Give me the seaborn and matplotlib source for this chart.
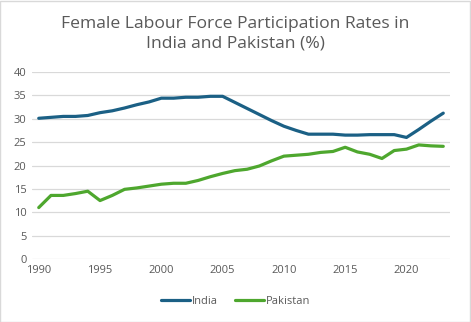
import numpy as np
import pandas as pd
import matplotlib
matplotlib.use("Agg")
import matplotlib.pyplot as plt
import seaborn as sns
from matplotlib.lines import Line2D

years = list(range(1990, 2024))
india = [30.1, 30.3, 30.5, 30.5, 30.7, 31.3, 31.7, 32.3, 33.0, 33.6,
         34.4, 34.4, 34.6, 34.6, 34.8, 34.8, 33.5, 32.2, 30.9, 29.6,
         28.4, 27.5, 26.7, 26.7, 26.7, 26.5, 26.5, 26.6, 26.6, 26.6,
         26.0, 27.7, 29.5, 31.2]
pakistan = [11.0, 13.6, 13.6, 14.0, 14.5, 12.5, 13.6, 14.9, 15.2, 15.6,
            16.0, 16.2, 16.2, 16.8, 17.6, 18.3, 18.9, 19.2, 19.9, 21.0,
            22.0, 22.2, 22.4, 22.8, 23.0, 23.9, 22.9, 22.4, 21.5, 23.2,
            23.5, 24.4, 24.2, 24.1]
series_names = ["India", "Pakistan"]
yticks = [0, 5, 10, 15, 20, 25, 30, 35, 40]
xticks = [1990, 1995, 2000, 2005, 2010, 2015, 2020]
title = "Female Labour Force Participation Rates in\nIndia and Pakistan (%)"

df = pd.DataFrame({
    "Year": years * 2,
    "Rate": india + pakistan,
    "Country": [series_names[0]] * len(years) + [series_names[1]] * len(years),
})

sns.set_theme(style="white")
plt.rcParams['font.family'] = ['Open Sans', 'DejaVu Sans']

fig = plt.figure(figsize=(4.71, 3.22), dpi=100)
ax = fig.add_axes([32 / 471, 1 - 259 / 322, (450 - 32) / 471, (259 - 72) / 322])

palette = {"India": "#1b6085", "Pakistan": "#4ea72e"}
sns.lineplot(data=df, x="Year", y="Rate", hue="Country", palette=palette,
             linewidth=2.3, ax=ax, legend=False)

ax.set_ylim(0, 40)
ax.set_xlim(1989.45, 2023.55)
ax.set_yticks(yticks)
ax.set_xticks(xticks)
ax.yaxis.grid(True, color="#d9d9d9", linewidth=0.9)
ax.set_axisbelow(True)
for s in ax.spines.values():
    s.set_visible(False)
ax.tick_params(axis="both", length=0, labelsize=8, colors="#595959", pad=4)
ax.set_xlabel("")
ax.set_ylabel("")

fig.text(0.5, 1 - 34 / 322, title, ha="center", va="center", fontsize=12.6,
         color="#595959", linespacing=1.3)

handles = [Line2D([0], [0], color=palette[n], linewidth=2.3) for n in series_names]
fig.legend(handles, series_names, loc="center", bbox_to_anchor=(0.5, 1 - 301 / 322),
           ncol=2, frameon=False, fontsize=8, labelcolor="#595959",
           handlelength=2.6, handletextpad=0.2, columnspacing=1.5)

fig.patches.append(plt.Rectangle((0.001, 0.001), 0.997, 0.997, transform=fig.transFigure,
                                 fill=False, edgecolor="#d9d9d9", linewidth=1))

fig.savefig("out.png", dpi=100)
